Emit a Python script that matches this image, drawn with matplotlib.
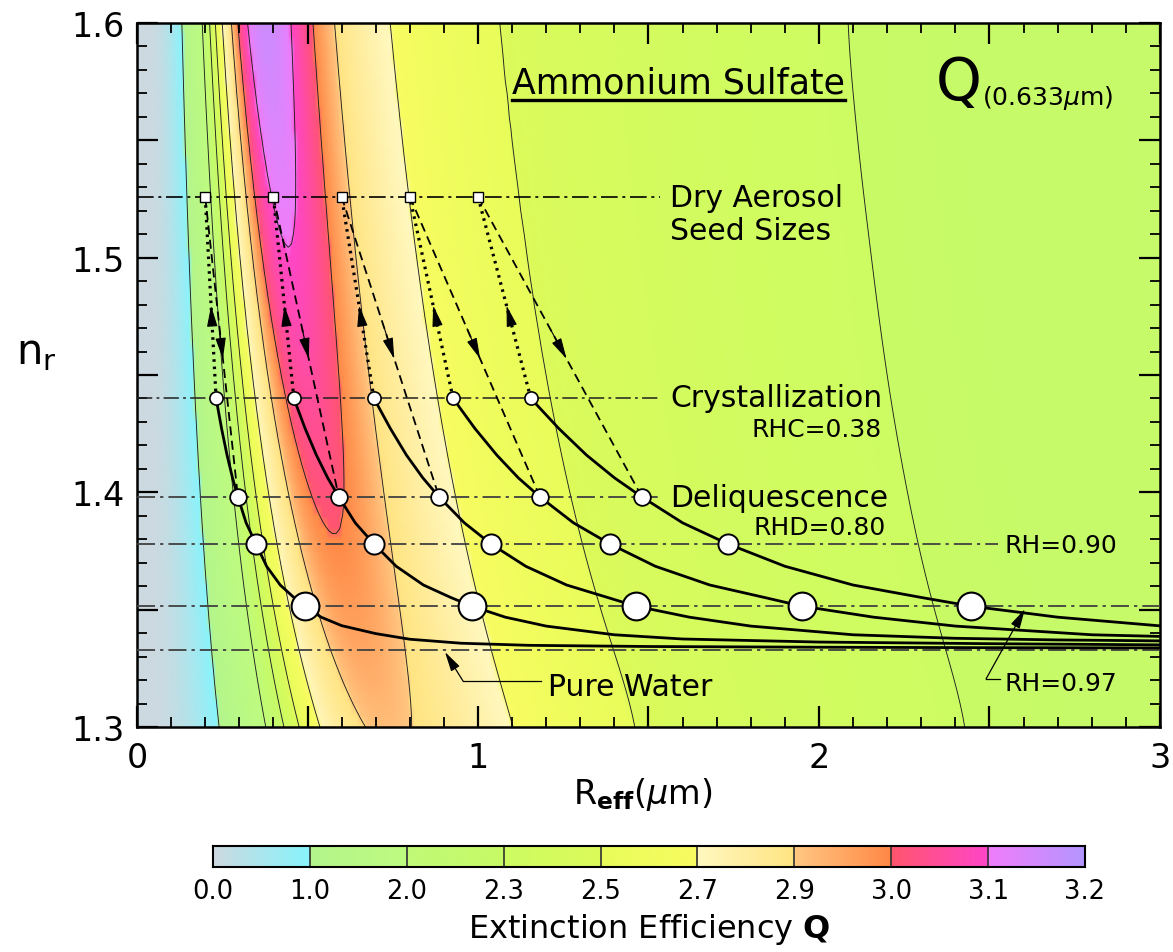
import numpy as np
import matplotlib
matplotlib.use("Agg")
import matplotlib.pyplot as plt
from matplotlib.colors import ListedColormap, to_rgb
from matplotlib.ticker import MultipleLocator, FuncFormatter
from matplotlib import transforms

plt.rcParams["font.family"] = ["DejaVu Sans"]

WAVELENGTH = 0.633   # um
V_EFF = 0.2          # effective variance of the gamma size distribution

# colour bands of the extinction efficiency
q_levels = [0.0, 1.0, 2.0, 2.3, 2.5, 2.7, 2.9, 3.0, 3.1, 3.2]
q_labels = ["0.0", "1.0", "2.0", "2.3", "2.5", "2.7", "2.9", "3.0", "3.1", "3.2"]
band_start = ["#cdd9e0", "#b4f58c", "#c0fa78", "#cdfc62", "#e8fc5a", "#fff8c0", "#ffc882", "#ff556e", "#f07dfa"]
band_end = ["#88f4fc", "#befb80", "#c8fa66", "#dcfa5a", "#f8fc60", "#ffe482", "#ff8846", "#ff46c8", "#b496ff"]

# particle states (R_eff in um, refractive index n_r)
seed_n = 1.526
seed_r = [0.2, 0.4, 0.6, 0.8, 1.0]
cryst_n = 1.440
cryst_r = [0.232, 0.460, 0.695, 0.927, 1.155]
deliq_n = 1.398
deliq_r = [0.296, 0.592, 0.886, 1.182, 1.481]
rh90_n = 1.378
rh90_r = [0.349, 0.695, 1.038, 1.387, 1.733]
rh97_n = 1.3515
rh97_r = [0.493, 0.982, 1.463, 1.950, 2.446]
water_n = 1.333

# growth curves, one per seed size
curve_r = [
    [0.232, 0.248, 0.264, 0.280, 0.296, 0.320, 0.349, 0.38, 0.42, 0.46, 0.493, 0.54, 0.60, 0.70, 0.80, 0.95, 1.15, 1.5, 2.0, 2.5, 3.0],
    [0.460, 0.493, 0.526, 0.559, 0.592, 0.64, 0.695, 0.76, 0.84, 0.92, 0.982, 1.08, 1.20, 1.40, 1.60, 2.0, 2.5, 3.0],
    [0.695, 0.743, 0.790, 0.838, 0.886, 0.96, 1.038, 1.14, 1.26, 1.38, 1.463, 1.62, 1.80, 2.1, 2.4, 2.7, 3.0],
    [0.927, 0.991, 1.055, 1.118, 1.182, 1.28, 1.387, 1.52, 1.68, 1.84, 1.950, 2.16, 2.40, 2.8, 3.0],
    [1.155, 1.237, 1.318, 1.400, 1.481, 1.60, 1.733, 1.90, 2.10, 2.30, 2.446, 2.70, 3.0],
]
curve_n = [
    [1.440, 1.4272, 1.4159, 1.4062, 1.398, 1.387, 1.378, 1.3685, 1.3605, 1.3552, 1.3515, 1.3468, 1.3432, 1.3398, 1.3374, 1.3357, 1.3348, 1.3343, 1.3340, 1.3338, 1.3337],
    [1.440, 1.4272, 1.4159, 1.4062, 1.398, 1.387, 1.378, 1.3685, 1.3605, 1.3552, 1.3515, 1.3468, 1.3430, 1.3393, 1.3375, 1.3362, 1.3355, 1.3350],
    [1.440, 1.4272, 1.4159, 1.4062, 1.398, 1.387, 1.378, 1.3685, 1.3605, 1.3552, 1.3515, 1.3468, 1.3430, 1.3393, 1.3378, 1.3371, 1.3367],
    [1.440, 1.4272, 1.4159, 1.4062, 1.398, 1.387, 1.378, 1.3685, 1.3605, 1.3552, 1.3515, 1.3468, 1.3430, 1.3393, 1.3386],
    [1.440, 1.4272, 1.4159, 1.4062, 1.398, 1.387, 1.378, 1.3685, 1.3605, 1.3552, 1.3515, 1.3468, 1.3431],
]


def mie_qext(x, m):
    # extinction efficiency of homogeneous spheres (Bohren & Huffman)
    nstop = (x + 4 * x ** (1 / 3) + 2).astype(int)
    nmax = nstop.max()
    mx = m * x
    nmx = int(max(nmax, mx.max())) + 16
    D = np.zeros((nmx + 1, x.size))
    for n in range(nmx, 0, -1):
        D[n - 1] = n / mx - 1 / (D[n] + n / mx)
    psi0, psi1 = np.cos(x), np.sin(x)
    chi0, chi1 = -np.sin(x), np.cos(x)
    q = np.zeros_like(x)
    with np.errstate(all="ignore"):
        for n in range(1, nmax + 1):
            psi = (2 * n - 1) / x * psi1 - psi0
            chi = (2 * n - 1) / x * chi1 - chi0
            xi = psi - 1j * chi
            xi1 = psi1 - 1j * chi1
            da = D[n] / m + n / x
            db = m * D[n] + n / x
            an = (da * psi - psi1) / (da * xi - xi1)
            bn = (db * psi - psi1) / (db * xi - xi1)
            term = (2 * n + 1) * (an.real + bn.real)
            q += np.where(n <= nstop, np.nan_to_num(term), 0.0)
            psi0, psi1 = psi1, psi
            chi0, chi1 = chi1, chi
    return 2 * q / x ** 2


def smooth(a, sigma, axis):
    k = np.arange(-3 * sigma, 3 * sigma + 1)
    g = np.exp(-k ** 2 / (2.0 * sigma ** 2))
    g /= g.sum()
    pad = len(k) // 2
    b = np.moveaxis(a, axis, -1)
    bp = np.pad(b, [(0, 0), (pad, pad)], mode="edge")
    out = np.array([np.convolve(row, g, mode="valid") for row in bp])
    return np.moveaxis(out, -1, axis)


def q_field(r_eff, n_grid):
    r = np.concatenate([np.geomspace(0.002, 0.5, 700, endpoint=False), np.linspace(0.5, 9.5, 4500)])
    dr = np.gradient(r)
    x = 2 * np.pi * r / WAVELENGTH
    q_mono = np.array([mie_qext(x, m) for m in n_grid])
    b = V_EFF
    logw = ((1 - 3 * b) / b + 2) * np.log(r)[None, :] - r[None, :] / (r_eff[:, None] * b) + np.log(dr)[None, :]
    logw -= logw.max(axis=1, keepdims=True)
    w = np.exp(logw)
    w /= w.sum(axis=1, keepdims=True)
    q = q_mono @ w.T
    # damp the resonance ripple noise in the flat large-size part
    qs = smooth(smooth(q, 4, 0), 3, 1)
    blend = np.clip((r_eff - 1.0) / 0.5, 0, 1)[None, :]
    return q * (1 - blend) + qs * blend


def band_cmap():
    cols = []
    for c0, c1 in zip(band_start, band_end):
        a = np.array(to_rgb(c0))
        b = np.array(to_rgb(c1))
        for t in np.linspace(0, 1, 100):
            cols.append(a + (b - a) * t)
    return ListedColormap(cols)


def arrow_on(ax, p0, p1, frac):
    p0 = np.array(p0)
    p1 = np.array(p1)
    tip = p0 + frac * (p1 - p0)
    back = p0 + (frac - 0.1) * (p1 - p0)
    ax.annotate("", xy=tip, xytext=back,
                arrowprops=dict(arrowstyle="-|>,head_length=1.0,head_width=0.25", color="k",
                                lw=0.8, shrinkA=0, shrinkB=0, mutation_scale=13), zorder=6)


r_eff = np.linspace(0.002, 3.0, 300)
n_grid = np.linspace(1.3, 1.6, 61)
Q = q_field(r_eff, n_grid)
cmap = band_cmap()
t_val = np.interp(Q, q_levels, np.arange(len(q_levels))) / (len(q_levels) - 1)

fig = plt.figure(figsize=(11.73, 9.53), dpi=100)
ax = fig.add_axes([0.1168, 0.2361, 0.8721, 0.7387])
ax.pcolormesh(r_eff, n_grid, t_val, cmap=cmap, vmin=0, vmax=1, shading="gouraud", zorder=0)
ax.contour(r_eff, n_grid, Q, levels=q_levels[1:-1], colors="#202020", linewidths=0.65, zorder=1)

label_x = 1.563
dd = (0, (10, 2.8, 1.8, 2.8))
ax.hlines(seed_n, 0, label_x - 0.03, colors="k", linestyles=[dd], lw=1.2, zorder=3)
ax.hlines(cryst_n, 0, label_x - 0.03, colors="#202020", linestyles=[dd], lw=1.1, zorder=3)
ax.hlines(deliq_n, 0, label_x - 0.03, colors="#404040", linestyles=[dd], lw=1.3, zorder=3)
ax.hlines(rh90_n, 0, 2.525, colors="#404040", linestyles=[dd], lw=1.3, zorder=3)
ax.hlines(rh97_n, 0, 3.0, colors="#404040", linestyles=[dd], lw=1.3, zorder=3)
ax.hlines(water_n, 0, 3.0, colors="#404040", linestyles=[dd], lw=1.3, zorder=3)

# hysteresis paths
for s, c, d in zip(seed_r, cryst_r, deliq_r):
    ax.plot([c, s], [cryst_n, seed_n], color="k", ls=(0, (0.8, 1.5)), lw=2.3, zorder=4)
    ax.plot([s, d], [seed_n, deliq_n], color="k", ls=(0, (5, 3)), lw=1.3, zorder=4)
    arrow_on(ax, (c, cryst_n), (s, seed_n), 0.46)
    arrow_on(ax, (s, seed_n), (d, deliq_n), 0.54)

for cr, cn in zip(curve_r, curve_n):
    ax.plot(cr, cn, color="k", lw=2.0, zorder=4, solid_capstyle="round", solid_joinstyle="round")

ax.plot(seed_r, [seed_n] * len(seed_r), "s", ms=7.5, mfc="white", mec="k", mew=1.0, zorder=7)
ax.plot(cryst_r, [cryst_n] * len(cryst_r), "o", ms=9.5, mfc="white", mec="k", mew=1.2, zorder=7)
ax.plot(deliq_r, [deliq_n] * len(deliq_r), "o", ms=12, mfc="white", mec="k", mew=1.3, zorder=7)
ax.plot(rh90_r, [rh90_n] * len(rh90_r), "o", ms=14.5, mfc="white", mec="k", mew=1.4, zorder=7)
ax.plot(rh97_r, [rh97_n] * len(rh97_r), "o", ms=20, mfc="white", mec="k", mew=1.5, zorder=7)

# annotations
fs = 21.5
ax.text(label_x, 1.522, "Dry Aerosol", fontsize=fs, va="baseline", zorder=8)
ax.text(label_x, 1.508, "Seed Sizes", fontsize=fs, va="baseline", zorder=8)
ax.text(label_x, 1.4368, "Crystallization", fontsize=fs, va="baseline", zorder=8)
ax.text(2.185, 1.424, "RHC=0.38", fontsize=18, va="baseline", ha="right", zorder=8)
ax.text(label_x, 1.3942, "Deliquescence", fontsize=fs, va="baseline", zorder=8)
ax.text(2.196, 1.3823, "RHD=0.80", fontsize=18, va="baseline", ha="right", zorder=8)
ax.text(2.545, 1.3746, "RH=0.90", fontsize=18, va="baseline", zorder=8)
ax.text(2.545, 1.3158, "RH=0.97", fontsize=18, va="baseline", zorder=8)
ax.text(1.205, 1.3137, "Pure Water", fontsize=fs, va="baseline", zorder=8)
title = ax.text(1.589, 1.5702, "Ammonium Sulfate", fontsize=25, va="baseline", ha="center", zorder=8)
ax.text(2.343, 1.5676, "Q", fontsize=42, va="baseline", zorder=8)
ax.text(2.478, 1.5655, r"(0.633$\mu$m)", fontsize=18, va="baseline", zorder=8)

# leader arrows
ax.plot([1.185, 0.956], [1.3196, 1.3196], color="k", lw=0.9, zorder=6)
ax.annotate("", xy=(0.903, 1.332), xytext=(0.956, 1.3196),
            arrowprops=dict(arrowstyle="-|>,head_length=1.0,head_width=0.25", color="k",
                            lw=0.9, shrinkA=0, shrinkB=0, mutation_scale=12), zorder=6)
ax.plot([2.532, 2.49], [1.3205, 1.3205], color="k", lw=0.9, zorder=6)
ax.annotate("", xy=(2.604, 1.3503), xytext=(2.49, 1.3205),
            arrowprops=dict(arrowstyle="-|>,head_length=1.0,head_width=0.25", color="k",
                            lw=0.9, shrinkA=0, shrinkB=0, mutation_scale=12), zorder=6)

ax.set_xlim(0, 3)
ax.set_ylim(1.3, 1.6)
ax.xaxis.set_major_locator(MultipleLocator(0.5))
ax.xaxis.set_minor_locator(MultipleLocator(0.1))
ax.yaxis.set_major_locator(MultipleLocator(0.05))
ax.yaxis.set_minor_locator(MultipleLocator(0.01))
ax.xaxis.set_major_formatter(FuncFormatter(lambda v, p: "%d" % round(v) if abs(v - round(v)) < 1e-6 else ""))
ax.yaxis.set_major_formatter(FuncFormatter(lambda v, p: "%.1f" % v if abs(v * 10 - round(v * 10)) < 1e-6 else ""))
ax.tick_params(which="both", direction="in", top=True, right=True)
ax.tick_params(which="major", length=15, width=1.6, labelsize=24)
ax.tick_params(which="minor", length=7, width=1.3)
ax.tick_params(axis="x", which="major", pad=10)
ax.tick_params(axis="y", which="major", pad=9)
for sp in ax.spines.values():
    sp.set_linewidth(1.8)

fig.text(643 / 1173, 1 - 795 / 953, r"R$_{\mathbf{eff}}$($\mu$m)", fontsize=24, ha="center", va="center")
fig.text(36 / 1173, 1 - 352 / 953, r"n$_\mathregular{r}$", fontsize=30, ha="center", va="center")

# underline of the title
fig.canvas.draw()
bb = title.get_window_extent()
inv = ax.transData.inverted()
(ux0, _), (ux1, _) = inv.transform([[bb.x0, bb.y0], [bb.x1, bb.y0]])
under = transforms.offset_copy(ax.transData, fig=fig, y=-5, units="points")
ax.plot([ux0, ux1], [1.5702, 1.5702], color="k", lw=2.4, transform=under, zorder=8)

# colour bar
cax = fig.add_axes([213 / 1173, 1 - 868 / 953, 872 / 1173, 21 / 953])
nb = len(q_levels) - 1
cax.imshow(np.linspace(0, 1, 900)[None, :], cmap=cmap, aspect="auto", extent=[0, nb, 0, 1], vmin=0, vmax=1)
for i in range(1, nb):
    cax.axvline(i, color="#303030", lw=1.2)
cax.set_xlim(0, nb)
cax.set_xticks(range(len(q_levels)))
cax.set_xticklabels(q_labels, fontsize=18.5)
cax.set_yticks([])
cax.tick_params(axis="x", length=0, pad=8)
for sp in cax.spines.values():
    sp.set_linewidth(1.5)
cax.set_xlabel(r"Extinction Efficiency $\mathbf{Q}$", fontsize=23, labelpad=5)

fig.savefig("out.png", dpi=100)
